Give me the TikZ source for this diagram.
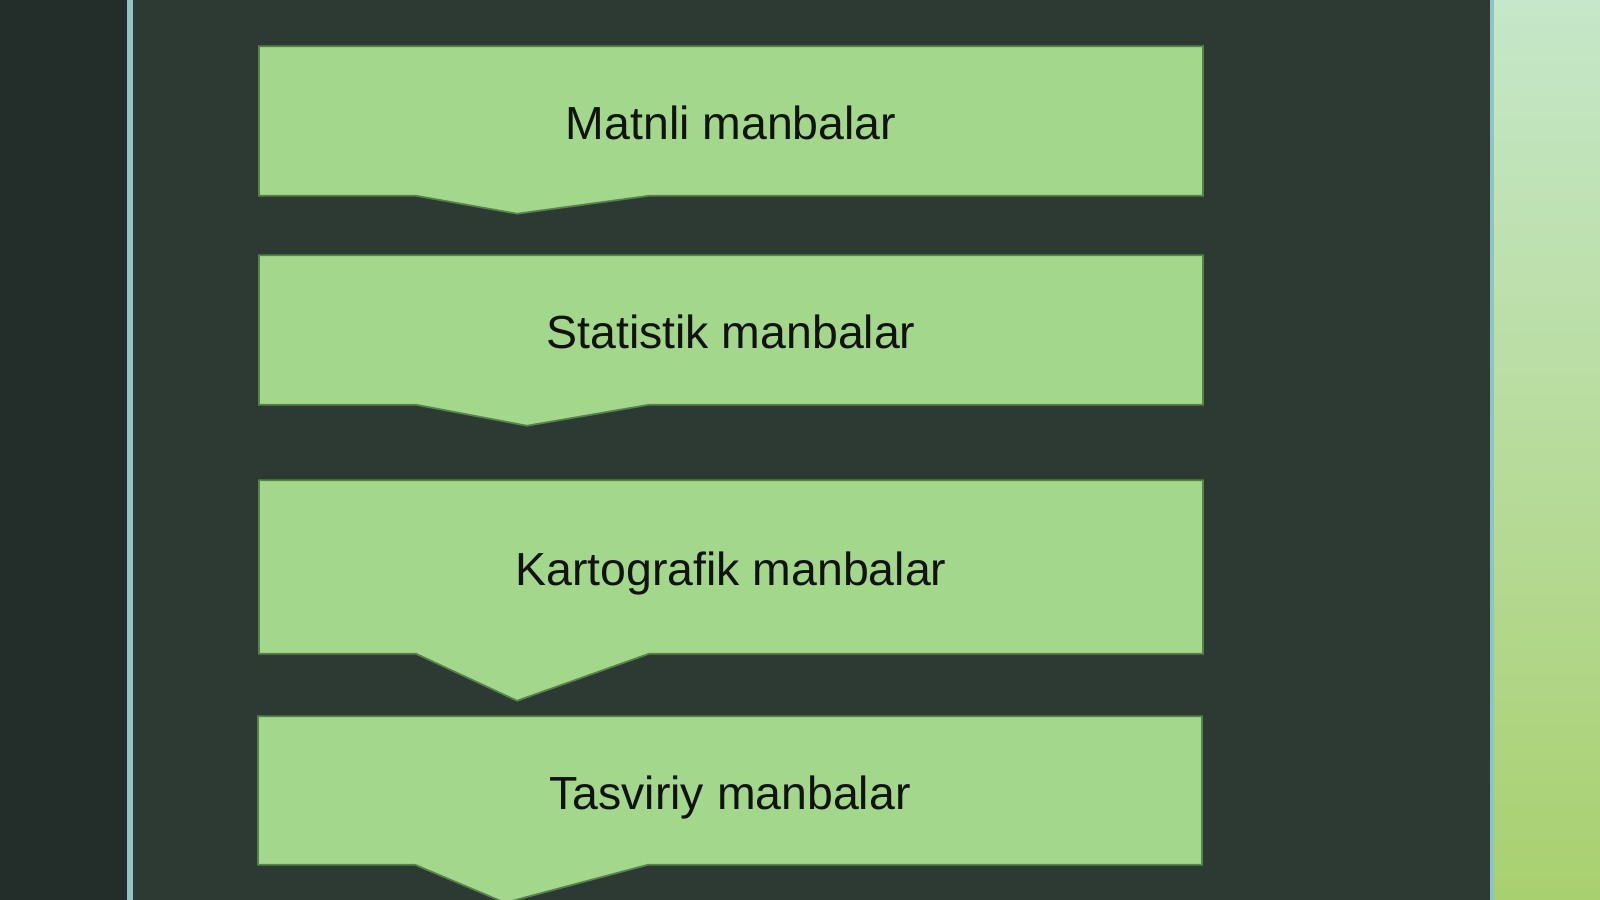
\documentclass[tikz,border=0pt]{standalone}
\usepackage{fontspec}
\setmainfont{Liberation Sans}
\usetikzlibrary{backgrounds,calc,positioning}
\definecolor{leftbg}{HTML}{232D29}
\definecolor{panel}{HTML}{2C3A33}
\definecolor{edgeline}{HTML}{8FC3C4}
\definecolor{boxgreen}{HTML}{A3D78B}
\definecolor{boxedge}{HTML}{56834A}
\definecolor{sidetop}{HTML}{C6E7C9}
\definecolor{sidebot}{HTML}{A9D06F}
\tikzset{
  source/.style={minimum width=9.42cm, minimum height=1.48cm, inner sep=0pt,
    text height=13.6pt, text depth=2.8pt,
    font=\fontsize{13.2}{15}\selectfont, text=black!93},
  chevron/.style={fill=boxgreen, draw=boxedge, line width=0.5pt, line join=miter}
}
\begin{document}
\begin{tikzpicture}[x=0.01cm,y=-0.01cm]
\useasboundingbox (0,0) rectangle (1600,900);
% boxes with their texts
\node[source] (matnli) at (731,121) {Matnli manbalar};
\node[source] (statistik) at (731,330) {Statistik manbalar};
\node[source, minimum height=1.72cm] (kartografik) at (731,567) {Kartografik manbalar};
\node[source, minimum height=1.47cm] (tasviriy) at (730,790.5) {Tasviriy manbalar};
\begin{scope}[on background layer]
% slide background
\fill[leftbg] (0,0) rectangle (127,900);
\fill[panel] (127,0) rectangle (1492,900);
\shade[top color=sidetop, bottom color=sidebot] (1492,0) rectangle (1600,900);
\fill[edgeline] (127,0) rectangle (133,900);
\fill[edgeline] (1490,0) rectangle (1494,900);
% outlines with the pointer below
\foreach \n/\tx/\d in {matnli/258/18, statistik/268/21, kartografik/258/47, tasviriy/247/38}
  \filldraw[chevron] (\n.north west) -- (\n.north east) -- (\n.south east)
    -- ($(\n.south west)+(390,0)$) -- ($(\n.south west)+(\tx,\d)$)
    -- ($(\n.south west)+(157,0)$) -- (\n.south west) -- cycle;
\end{scope}
\end{tikzpicture}
\end{document}
